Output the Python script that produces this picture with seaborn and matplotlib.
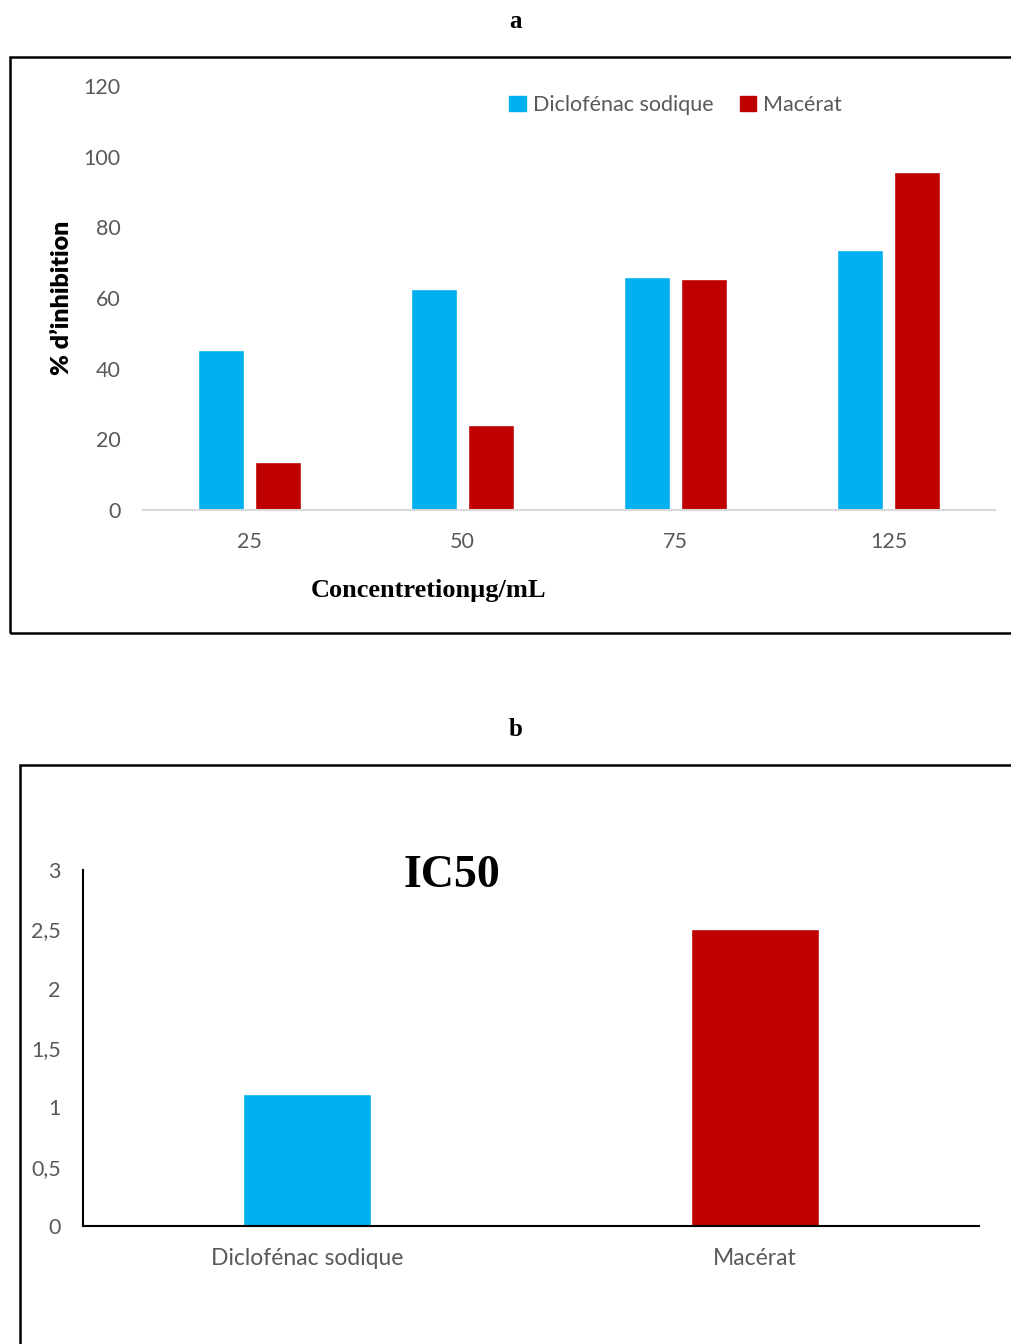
import numpy as np
import pandas as pd
import matplotlib.pyplot as plt
import seaborn as sns
from matplotlib.patches import Patch, Rectangle

# data
concentrations = ['25', '50', '75', '125']
diclofenac = [45.3, 62.5, 65.9, 73.6]
macerat = [13.6, 24.0, 65.4, 95.7]
series_names = ['Diclofénac sodique', 'Macérat']
ic50_labels = ['Diclofénac sodique', 'Macérat']
ic50_values = [1.11, 2.5]

BLUE = '#00B0F0'
RED = '#C00000'
GREY = '#595959'

sns.set_style('white')
plt.rcParams['font.family'] = ['Lato', 'DejaVu Sans']

df = pd.DataFrame({
    'conc': concentrations * 2,
    'serie': [series_names[0]] * 4 + [series_names[1]] * 4,
    'val': diclofenac + macerat,
})

W, H = 1011, 1344
fig = plt.figure(figsize=(W / 100, H / 100), dpi=100)

def fx(px):
    return px / W

def fy(py):
    return 1 - py / H

# panel frames
fig.patches.append(Rectangle((fx(10), fy(633)), fx(1011 - 10) + 0.01, fy(57) - fy(633),
                             transform=fig.transFigure, fill=False, lw=1.8, ec='black'))
fig.patches.append(Rectangle((fx(20), fy(1350)), fx(1011 - 20) + 0.01, fy(765) - fy(1350),
                             transform=fig.transFigure, fill=False, lw=1.8, ec='black'))

# ---- panel a ----
ax1 = fig.add_axes([fx(143), fy(510), fx(995) - fx(143), fy(86) - fy(510)])
sns.barplot(data=df, x='conc', y='val', hue='serie', palette=[BLUE, RED],
            width=0.54, gap=0.2, ax=ax1, legend=False, saturation=1)
ax1.set_xlim(-0.5, 3.5)
ax1.set_ylim(0, 120)
ax1.set_yticks(np.arange(0, 121, 20))
ax1.set_xlabel('')
ax1.set_ylabel('')
for s in ['top', 'right', 'left']:
    ax1.spines[s].set_visible(False)
ax1.spines['bottom'].set_color('#d9d9d9')
ax1.spines['bottom'].set_linewidth(1.5)
ax1.tick_params(axis='both', length=0, labelsize=15.5, labelcolor=GREY)
ax1.tick_params(axis='y', pad=16)
ax1.tick_params(axis='x', pad=16)

fig.text(fx(516), fy(22), 'a', ha='center', va='center', fontsize=18,
         fontweight='bold', family='Liberation Serif', color='black')
fig.text(fx(62), fy(298), '% d’inhibition', rotation=90, ha='center', va='center',
         fontsize=18, fontweight='heavy', color='black')
fig.text(fx(429), fy(591), 'Concentretionµg/mL', ha='center', va='center',
         fontsize=19, fontweight='bold', family='Liberation Serif', color='black')

handles = [Patch(color=BLUE), Patch(color=RED)]
fig.legend(handles, series_names, loc='center left', bbox_to_anchor=(fx(490), fy(105)),
           ncol=2, frameon=False, fontsize=15.5, handlelength=0.75, handleheight=0.75,
           handletextpad=0.35, columnspacing=1.2, labelcolor=GREY)

# ---- panel b ----
ax2 = fig.add_axes([fx(83), fy(1226), fx(979) - fx(83), fy(870) - fy(1226)])
sns.barplot(x=ic50_labels, y=ic50_values, hue=ic50_labels, palette=[BLUE, RED],
            width=0.286, ax=ax2, legend=False, saturation=1)
ax2.set_xlim(-0.5, 1.5)
ax2.set_ylim(0, 3)
yt = np.arange(0, 3.01, 0.5)
ax2.set_yticks(yt)
ax2.set_yticklabels([('%g' % v).replace('.', ',') for v in yt])
for s in ['top', 'right']:
    ax2.spines[s].set_visible(False)
for s in ['left', 'bottom']:
    ax2.spines[s].set_color('black')
    ax2.spines[s].set_linewidth(1.5)
ax2.tick_params(axis='both', length=0, labelsize=15.5, labelcolor=GREY)
ax2.tick_params(axis='x', labelsize=16.5)
ax2.tick_params(axis='y', pad=16)
ax2.tick_params(axis='x', pad=16)

fig.text(fx(516), fy(730), 'b', ha='center', va='center', fontsize=18,
         fontweight='bold', family='Liberation Serif', color='black')
fig.text(fx(452), fy(887), 'IC50', ha='center', va='baseline', fontsize=33,
         fontweight='bold', family='Liberation Serif', color='black')

fig.savefig('out.png', dpi=100)
